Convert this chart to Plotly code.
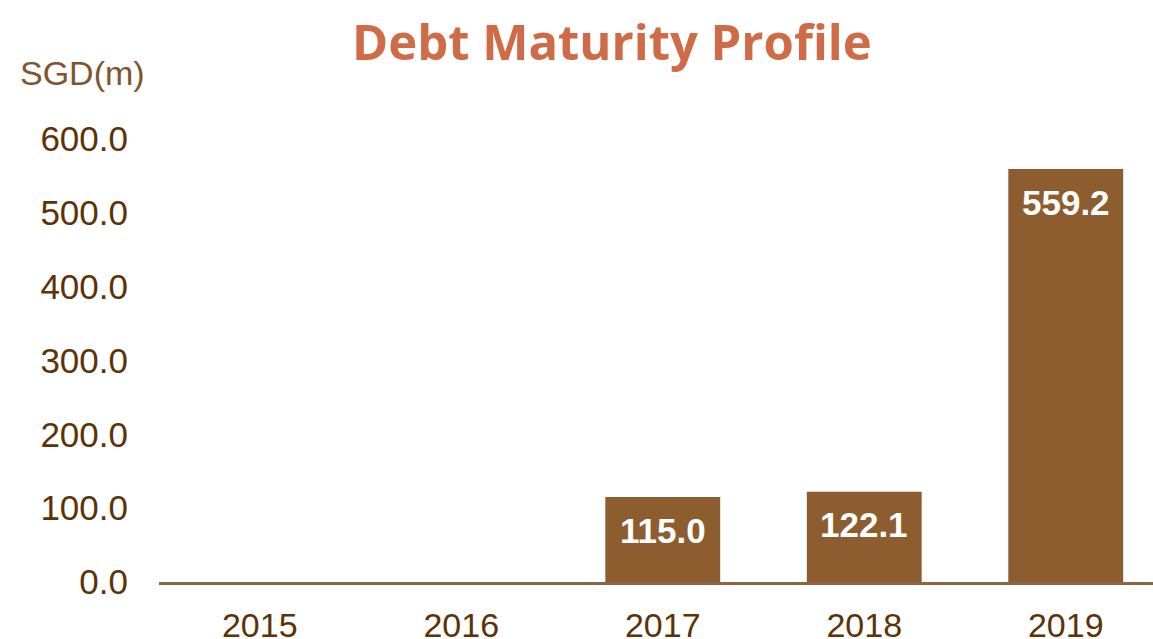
import plotly.graph_objects as go

years = ["2015", "2016", "2017", "2018", "2019"]
amounts = [0, 0, 115.0, 122.1, 559.2]
labels = ["", "", "115.0", "122.1", "559.2"]
yticks = [0, 100, 200, 300, 400, 500, 600]
ytick_text = ["0.0", "100.0", "200.0", "300.0", "400.0", "500.0", "600.0"]

W, H = 1153, 639
L, R, T, B = 159, 0, 139, 57

fig = go.Figure()
fig.add_trace(go.Bar(
    x=years, y=amounts,
    marker=dict(color="#8D5D30", line=dict(width=0)),
    width=0.57, cliponaxis=False,
))

pw, ph = W - L - R, H - T - B
def px(x): return (x - L) / pw
def py(y): return (H - B - y) / ph

annotations = [
    dict(text="<b>Debt Maturity Profile</b>", x=px(612), y=py(41),
         xref="paper", yref="paper", xanchor="center", yanchor="middle",
         showarrow=False, font=dict(family="Open Sans", size=49, color="#D06B48")),
    dict(text="SGD(m)", x=px(82), y=py(73), xref="paper", yref="paper",
         xanchor="center", yanchor="middle", showarrow=False,
         font=dict(family="Liberation Sans", size=34, color="#7F5530")),
]
for i, (v, lab) in enumerate(zip(amounts, labels)):
    if lab:
        annotations.append(dict(
            text="<b>" + lab + "</b>", x=i, y=v, xref="x", yref="y",
            xanchor="center", yanchor="middle", yshift=-33, showarrow=False,
            font=dict(family="Liberation Sans", size=35, color="white")))

fig.update_layout(
    width=W, height=H,
    margin=dict(l=L, r=R, t=T, b=B, pad=0),
    plot_bgcolor="white", paper_bgcolor="white",
    showlegend=False,
    font=dict(family="Liberation Sans", color="#5C3206"),
    xaxis=dict(
        type="category", range=[-0.5, 4.433], automargin=False,
        showgrid=False, showline=True, linecolor="#8B6645", linewidth=3,
        ticks="", tickfont=dict(size=34, color="#5C3206"),
        ticklabelstandoff=11, zeroline=False,
    ),
    yaxis=dict(
        range=[0, 600], tickvals=yticks, ticktext=ytick_text, automargin=False,
        showgrid=False, showline=False, zeroline=False, ticks="",
        tickfont=dict(size=35, color="#5C3206"), ticklabelstandoff=30,
    ),
    annotations=annotations,
)

fig.write_html("out.html", config={"displayModeBar": False},
               post_script="document.body.style.margin='0';document.body.style.overflow='hidden';")
